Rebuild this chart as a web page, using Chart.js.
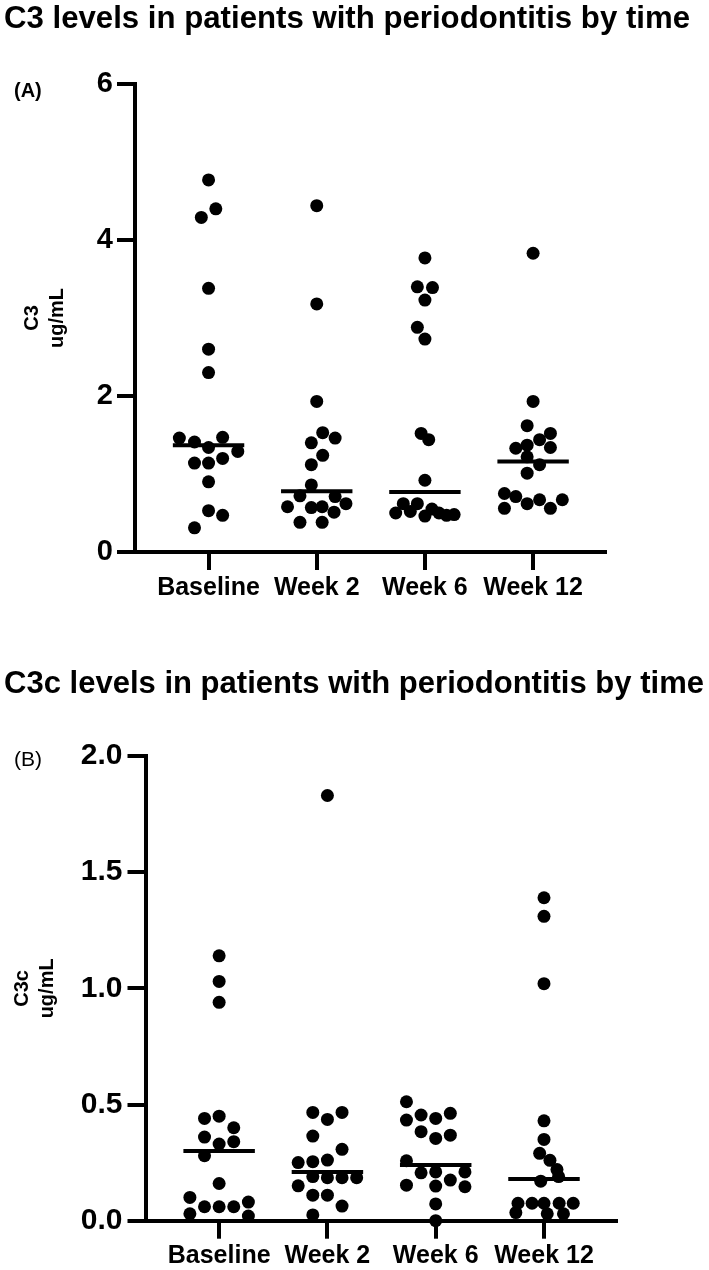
<!DOCTYPE html>
<html>
<head>
<meta charset="utf-8">
<script src="https://cdn.jsdelivr.net/npm/chart.js@4.4.1/dist/chart.umd.min.js"></script>
<style>
  html, body { margin: 0; padding: 0; background: #fff; }
  body { width: 709px; height: 1270px; position: relative; overflow: hidden; }
  canvas { position: absolute; left: 0; }
</style>
</head>
<body>
<canvas id="panelA" width="709" height="640" style="top:0px"></canvas>
<canvas id="panelB" width="709" height="630" style="top:640px"></canvas>
<script>
const categories = ['Baseline', 'Week 2', 'Week 6', 'Week 12'];

// C3 (ug/mL), one list per time point
const c3Values = [
  [4.77, 4.40, 4.29, 3.38, 2.60, 2.30, 1.46, 1.41, 1.47, 1.34, 1.29, 1.14, 1.14, 1.20, 0.90, 0.53, 0.47, 0.31],
  [4.44, 3.18, 1.93, 1.53, 1.40, 1.46, 1.24, 1.12, 0.86, 0.72, 0.71, 0.58, 0.57, 0.58, 0.62, 0.51, 0.38, 0.38],
  [3.77, 3.40, 3.39, 3.23, 2.88, 2.73, 1.52, 1.44, 0.92, 0.62, 0.62, 0.50, 0.52, 0.46, 0.50, 0.48, 0.55, 0.47],
  [3.83, 1.93, 1.62, 1.52, 1.44, 1.33, 1.37, 1.34, 1.22, 1.12, 1.01, 0.75, 0.71, 0.67, 0.67, 0.56, 0.62, 0.56]
];
// horizontal scatter of each dot around its time point (category units)
const c3Spread = [
  [0, 0.067, -0.067, 0, 0, 0, -0.27, -0.13, 0.13, 0, 0.27, -0.13, 0, 0.13, 0, 0, 0.13, -0.13],
  [0, 0, 0, 0.055, -0.05, 0.17, 0.055, -0.05, -0.05, -0.155, 0.17, -0.27, -0.05, 0.05, 0.27, 0.16, -0.155, 0.05],
  [0, -0.07, 0.07, 0, -0.07, 0, -0.035, 0.035, 0, -0.2, -0.07, -0.27, -0.135, 0, 0.13, 0.27, 0.065, 0.2],
  [0, 0, -0.055, 0.16, 0.06, -0.16, -0.055, 0.16, -0.055, 0.06, -0.055, -0.265, -0.16, 0.06, 0.27, -0.265, -0.055, 0.16]
];
const c3Medians = [1.37, 0.78, 0.77, 1.16];
const c3Ticks = [0, 2, 4, 6];

// C3c (ug/mL)
const c3cValues = [
  [1.14, 1.03, 0.94, 0.44, 0.45, 0.40, 0.36, 0.33, 0.34, 0.28, 0.16, 0.10, 0.06, 0.06, 0.06, 0.08, 0.03, 0.02],
  [1.83, 0.466, 0.436, 0.466, 0.364, 0.307, 0.25, 0.254, 0.261, 0.19, 0.185, 0.185, 0.185, 0.15, 0.11, 0.11, 0.063, 0.025],
  [0.512, 0.433, 0.455, 0.44, 0.462, 0.383, 0.354, 0.368, 0.258, 0.206, 0.21, 0.21, 0.153, 0.149, 0.175, 0.146, 0.072, 0.0],
  [1.39, 1.31, 1.02, 0.43, 0.35, 0.29, 0.26, 0.22, 0.19, 0.17, 0.075, 0.075, 0.075, 0.075, 0.075, 0.035, 0.03, 0.03]
];
const c3cSpread = [
  [0, 0, 0, -0.135, 0, 0.135, -0.135, 0, 0.135, -0.135, 0, -0.27, -0.135, 0, 0.135, 0.27, -0.27, 0.27],
  [0, -0.135, 0, 0.135, -0.135, 0.135, -0.27, -0.135, 0, -0.135, 0, 0.135, 0.27, -0.27, -0.135, 0, 0.135, -0.135],
  [-0.27, -0.27, -0.135, 0, 0.135, -0.135, 0, 0.135, -0.27, -0.135, 0, 0.27, -0.27, 0, 0.135, 0.27, 0, 0],
  [0, 0, 0, 0, 0, -0.04, 0.055, 0.12, 0.135, -0.03, -0.24, -0.11, 0, 0.14, 0.27, -0.26, 0.03, 0.18]
];
const c3cMedians = [0.30, 0.21, 0.24, 0.18];
const c3cTicks = [0, 0.5, 1.0, 1.5, 2.0];

Chart.defaults.font.family = '"Liberation Sans", Arial, sans-serif';
Chart.defaults.color = '#000';

// headline and panel letter, drawn outside the plot box so the
// chart's right padding does not squeeze the long title
const headings = {
  id: 'headings',
  afterDraw(chart, args, opts) {
    const ctx = chart.ctx;
    ctx.save();
    ctx.fillStyle = '#000';
    ctx.textBaseline = 'alphabetic';
    opts.items.forEach(t => {
      ctx.font = t.font;
      if (t.w) ctx.fillText(t.text, t.x, t.y, t.w);
      else ctx.fillText(t.text, t.x, t.y);
    });
    ctx.restore();
  }
};

function makePanel(id, p) {
  const dots = p.values.flatMap((vals, i) => vals.map((v, j) => ({ x: i + p.spread[i][j], y: v })));
  const medianSets = p.medians.map((m, i) => ({
    type: 'scatter',
    showLine: true,
    data: [{ x: i - 0.33, y: m }, { x: i + 0.33, y: m }],
    borderColor: '#000',
    borderWidth: 4,
    pointRadius: 0,
    clip: false
  }));

  return new Chart(document.getElementById(id), {
    type: 'scatter',
    data: {
      datasets: [{
        data: dots,
        backgroundColor: '#000',
        borderWidth: 0,
        pointRadius: 6.5,
        clip: false
      }].concat(medianSets)
    },
    plugins: [headings],
    options: {
      responsive: false,
      animation: false,
      layout: { padding: { left: 4, right: p.right, top: p.top, bottom: 0 } },
      plugins: {
        legend: { display: false },
        tooltip: { enabled: false },
        headings: { items: p.headings }
      },
      scales: {
        x: {
          type: 'linear',
          min: -0.68,
          max: p.xMax,
          afterBuildTicks: s => { s.ticks = categories.map((c, i) => ({ value: i })); },
          afterFit: s => { s.height = p.xHeight; },
          ticks: {
            autoSkip: false,
            maxRotation: 0,
            padding: p.xPad,
            color: '#000',
            font: { size: 25, weight: 'bold' },
            callback: v => categories[v]
          },
          grid: { drawOnChartArea: false, drawTicks: true, tickLength: 18, tickWidth: 4, tickColor: '#000', color: '#000', lineWidth: 4 },
          border: { display: true, color: '#000', width: 4 }
        },
        y: {
          min: 0,
          max: p.ticks[p.ticks.length - 1],
          afterBuildTicks: s => { s.ticks = p.ticks.map(v => ({ value: v })); },
          afterFit: s => { s.width = p.yWidth; },
          ticks: {
            padding: p.yPad,
            color: '#000',
            font: { size: p.yFont, weight: 'bold' },
            callback: p.tickFmt
          },
          grid: { drawOnChartArea: false, drawTicks: true, tickLength: 18, tickWidth: 4, tickColor: '#000', color: '#000', lineWidth: 4 },
          border: { display: true, color: '#000', width: 4 },
          title: {
            display: true,
            text: p.yTitle,
            color: '#000',
            font: { size: 20, weight: 'bold', lineHeight: 1.25 },
            padding: { top: p.yTitlePad, bottom: 0 }
          }
        }
      }
    }
  });
}

const titleFont = 'bold 32px "Liberation Sans", Arial, sans-serif';

makePanel('panelA', {
  values: c3Values, spread: c3Spread, medians: c3Medians, ticks: c3Ticks,
  tickFmt: v => String(v),
  yTitle: ['C3', 'ug/mL'], yTitlePad: 16,
  headings: [
    { text: 'C3 levels in patients with periodontitis by time', font: titleFont, x: 4, y: 28, w: 686 },
    { text: '(A)', font: 'bold 20px "Liberation Sans", Arial', x: 14, y: 97 }
  ],
  top: 84, right: 104.5, yWidth: 131, xHeight: 88, xMax: 3.66, xPad: 3, yPad: 4, yFont: 29
});

makePanel('panelB', {
  values: c3cValues, spread: c3cSpread, medians: c3cMedians, ticks: c3cTicks,
  tickFmt: v => v.toFixed(1),
  yTitle: ['C3c', 'ug/mL'], yTitlePad: 6,
  headings: [
    { text: 'C3c levels in patients with periodontitis by time', font: titleFont, x: 4, y: 53, w: 700 },
    { text: '(B)', font: '21px "Liberation Sans", Arial', x: 14, y: 126 }
  ],
  top: 116, right: 93, yWidth: 141.5, xHeight: 49.3, xMax: 3.665, xPad: 2, yPad: 5, yFont: 30
});
</script>
</body>
</html>
